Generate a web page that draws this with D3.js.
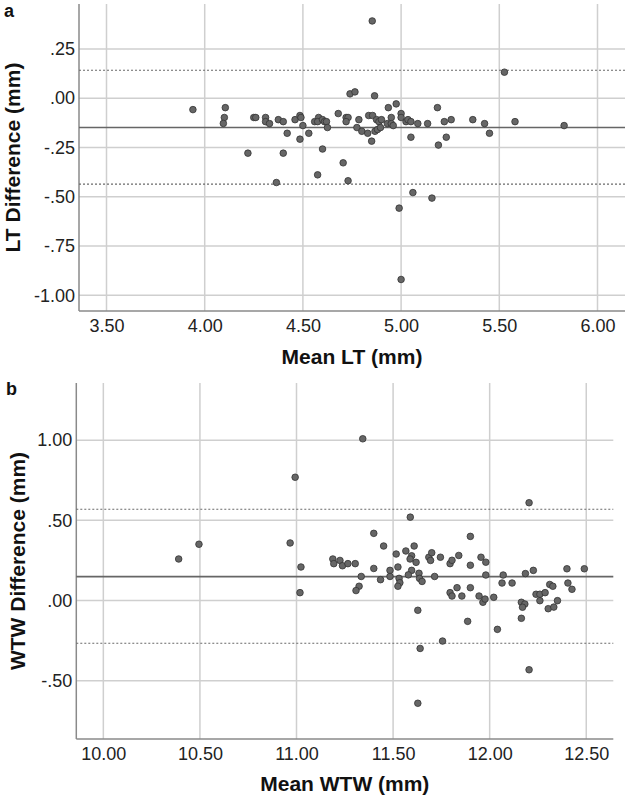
<!DOCTYPE html>
<html>
<head>
<meta charset="utf-8">
<script src="https://cdn.jsdelivr.net/npm/d3@7"></script>
<style>
  html, body { margin: 0; padding: 0; background: #fff; }
  svg { display: block; font-family: "Liberation Sans", Arial, sans-serif; }
</style>
</head>
<body>
<svg id="chart" width="629" height="798"></svg>
<script>
// ---------- Panel a: LT ----------
const ltMean = [3.94,4.105,4.10,4.095,4.22,4.25,4.26,4.31,4.31,4.33,4.365,4.375,4.40,4.40,4.42,4.46,4.485,4.49,4.485,4.50,
  4.53,4.56,4.58,4.575,4.575,4.60,4.61,4.62,4.625,4.60,4.68,4.705,4.73,4.72,4.73,4.72,4.74,4.765,4.775,4.785,
  4.80,4.83,4.835,4.85,4.855,4.853,4.865,4.867,4.875,4.88,4.887,4.895,4.90,4.93,4.935,4.95,4.95,4.96,4.975,5.00,
  5.00,5.025,5.035,5.05,5.05,5.085,5.135,5.185,5.19,5.22,5.23,5.255,5.365,5.425,5.45,5.526,5.58,5.83,5.06,5.157,
  4.99,5.00];
const ltDiff = [-0.058,-0.048,-0.098,-0.128,-0.279,-0.098,-0.098,-0.098,-0.119,-0.129,-0.428,-0.109,-0.119,-0.279,-0.178,-0.109,-0.088,-0.098,-0.208,-0.139,
  -0.178,-0.119,-0.098,-0.119,-0.389,-0.109,-0.119,-0.119,-0.149,-0.258,-0.078,-0.328,-0.419,-0.098,-0.098,-0.119,0.022,0.032,-0.149,-0.109,
  -0.168,-0.178,-0.088,-0.218,-0.088,0.392,0.012,-0.168,-0.109,-0.159,-0.119,-0.149,-0.109,-0.129,-0.048,-0.098,-0.129,-0.139,-0.029,-0.078,
  -0.098,-0.119,-0.109,-0.119,-0.198,-0.129,-0.129,-0.048,-0.238,-0.119,-0.198,-0.109,-0.109,-0.129,-0.178,0.132,-0.119,-0.139,-0.479,-0.507,
  -0.558,-0.920];
const ltLines = [0.142, -0.149, -0.436];   // upper LoA, mean bias, lower LoA
const ltXTicks = [3.5, 4.0, 4.5, 5.0, 5.5, 6.0];
const ltXTickLabels = ["3.50", "4.00", "4.50", "5.00", "5.50", "6.00"];
const ltYTicks = [0.25, 0, -0.25, -0.5, -0.75, -1.0];
const ltYTickLabels = [".25", ".00", "-.25", "-.50", "-.75", "-1.00"];

// ---------- Panel b: WTW ----------
const wtwMean = [10.39,10.495,10.993,10.967,11.023,11.018,11.343,12.204,11.589,11.40,11.451,11.609,11.90,11.516,11.566,11.188,11.225,11.193,11.238,11.266,
  11.304,11.40,11.335,11.435,11.484,11.484,11.525,11.531,11.535,11.525,11.596,11.588,11.619,11.596,11.579,11.634,11.637,11.65,11.685,11.70,
  11.694,11.715,11.745,11.795,11.805,11.84,11.90,11.955,11.98,11.98,12.07,12.064,12.116,12.185,12.226,12.311,12.327,12.40,12.405,12.426,
  12.49,11.324,11.308,11.831,11.90,11.628,11.64,11.628,11.756,11.795,11.805,11.856,11.886,11.945,11.965,11.976,12.021,12.04,12.164,12.182,
  12.17,12.164,12.204,12.24,12.26,12.26,12.287,12.303,12.332,12.351];
const wtwDiff = [0.259,0.351,0.769,0.359,0.209,0.049,1.009,0.610,0.520,0.419,0.340,0.340,0.400,0.290,0.309,0.259,0.250,0.230,0.217,0.230,
  0.230,0.200,0.150,0.130,0.188,0.150,0.209,0.138,0.111,0.089,0.279,0.259,0.238,0.188,0.160,0.170,0.138,0.119,0.270,0.298,
  0.250,0.150,0.270,0.230,0.251,0.281,0.220,0.270,0.239,0.159,0.159,0.109,0.109,0.168,0.188,0.100,0.089,0.198,0.109,0.070,
  0.198,0.089,0.062,0.080,0.080,-0.061,-0.299,-0.641,-0.253,0.049,0.028,0.028,-0.130,0.028,-0.011,0.009,0.020,-0.180,-0.011,-0.022,
  -0.042,-0.111,-0.432,0.039,0.039,-0.001,0.049,-0.051,-0.041,-0.001];
const wtwLines = [0.569, 0.149, -0.267];
const wtwXTicks = [10.0, 10.5, 11.0, 11.5, 12.0, 12.5];
const wtwXTickLabels = ["10.00", "10.50", "11.00", "11.50", "12.00", "12.50"];
const wtwYTicks = [1.0, 0.5, 0, -0.5];
const wtwYTickLabels = ["1.00", ".50", ".00", "-.50"];

const svg = d3.select("#chart");

function panel(cfg) {
  const x = d3.scaleLinear().domain(cfg.xDomain).range([cfg.left, cfg.right]);
  const y = d3.scaleLinear().domain(cfg.yDomain).range([cfg.bottom, cfg.top]);
  const g = svg.append("g");

  // gridlines
  g.append("g").selectAll("line").data(cfg.xTicks).join("line")
    .attr("x1", d => x(d)).attr("x2", d => x(d))
    .attr("y1", cfg.top).attr("y2", cfg.bottom)
    .attr("stroke", "#cfcfcf").attr("stroke-width", 1.5);
  g.append("g").selectAll("line").data(cfg.yTicks).join("line")
    .attr("x1", cfg.left).attr("x2", cfg.right)
    .attr("y1", d => y(d)).attr("y2", d => y(d))
    .attr("stroke", "#cfcfcf").attr("stroke-width", 1.5);

  // axes via d3
  const xAxis = d3.axisBottom(x).tickValues(cfg.xTicks)
    .tickFormat((d, i) => cfg.xTickLabels[i]).tickSize(0).tickPadding(8);
  const yAxis = d3.axisLeft(y).tickValues(cfg.yTicks)
    .tickFormat((d, i) => cfg.yTickLabels[i]).tickSize(0).tickPadding(4);
  const gx = g.append("g").attr("transform", `translate(0,${cfg.bottom})`).call(xAxis);
  const gy = g.append("g").attr("transform", `translate(${cfg.left},0)`).call(yAxis);
  [gx, gy].forEach(a => {
    a.select(".domain").remove();
    a.selectAll("text").attr("font-size", 18).attr("fill", "#222")
      .attr("font-family", "Liberation Sans, Arial, sans-serif");
  });

  // axis lines (left & bottom)
  g.append("line").attr("x1", cfg.left).attr("x2", cfg.left)
    .attr("y1", cfg.top).attr("y2", cfg.bottom)
    .attr("stroke", "#8a8a8a").attr("stroke-width", 1.5);
  g.append("line").attr("x1", cfg.left).attr("x2", cfg.right)
    .attr("y1", cfg.bottom).attr("y2", cfg.bottom)
    .attr("stroke", "#8a8a8a").attr("stroke-width", 1.5);

  // reference lines
  g.append("g").selectAll("line").data(cfg.lines).join("line")
    .attr("x1", cfg.left).attr("x2", cfg.right)
    .attr("y1", d => y(d)).attr("y2", d => y(d))
    .attr("stroke", (d, i) => i === 1 ? "#666" : "#6a6a6a")
    .attr("stroke-width", (d, i) => i === 1 ? 1.6 : 1.1)
    .attr("stroke-dasharray", (d, i) => i === 1 ? null : "2,2");

  // points
  const pts = cfg.xs.map((v, i) => [v, cfg.ys[i]]);
  g.append("g").selectAll("circle").data(pts).join("circle")
    .attr("cx", d => x(d[0])).attr("cy", d => y(d[1]))
    .attr("r", 3.3)
    .attr("fill", "#666").attr("stroke", "#333").attr("stroke-width", 0.8);

  // titles
  g.append("text").attr("x", (cfg.left + cfg.right) / 2).attr("y", cfg.xTitleY)
    .attr("text-anchor", "middle").attr("font-size", 21).attr("font-weight", "bold")
    .attr("fill", "#111").text(cfg.xTitle);
  g.append("text")
    .attr("transform", `translate(${cfg.yTitleX},${(cfg.top + cfg.bottom) / 2}) rotate(-90)`)
    .attr("text-anchor", "middle").attr("font-size", 21).attr("font-weight", "bold")
    .attr("fill", "#111").text(cfg.yTitle);
  g.append("text").attr("x", cfg.tagX).attr("y", cfg.tagY)
    .attr("font-size", 18).attr("font-weight", "bold").attr("fill", "#111").text(cfg.tag);
}

panel({
  xs: ltMean, ys: ltDiff, lines: ltLines,
  xTicks: ltXTicks, xTickLabels: ltXTickLabels, yTicks: ltYTicks, yTickLabels: ltYTickLabels,
  xDomain: [3.36, 6.14], yDomain: [-1.08, 0.478],
  left: 79, right: 625, top: 4, bottom: 311,
  xTitle: "Mean LT (mm)", yTitle: "LT Difference (mm)",
  xTitleY: 364, yTitleX: 20, tag: "a", tagX: 4, tagY: 17
});

panel({
  xs: wtwMean, ys: wtwDiff, lines: wtwLines,
  xTicks: wtwXTicks, xTickLabels: wtwXTickLabels, yTicks: wtwYTicks, yTickLabels: wtwYTickLabels,
  xDomain: [9.86, 12.64], yDomain: [-0.864, 1.357],
  left: 76.3, right: 613.3, top: 383, bottom: 739,
  xTitle: "Mean WTW (mm)", yTitle: "WTW Difference (mm)",
  xTitleY: 791, yTitleX: 25, tag: "b", tagX: 6, tagY: 395
});
</script>
</body>
</html>
